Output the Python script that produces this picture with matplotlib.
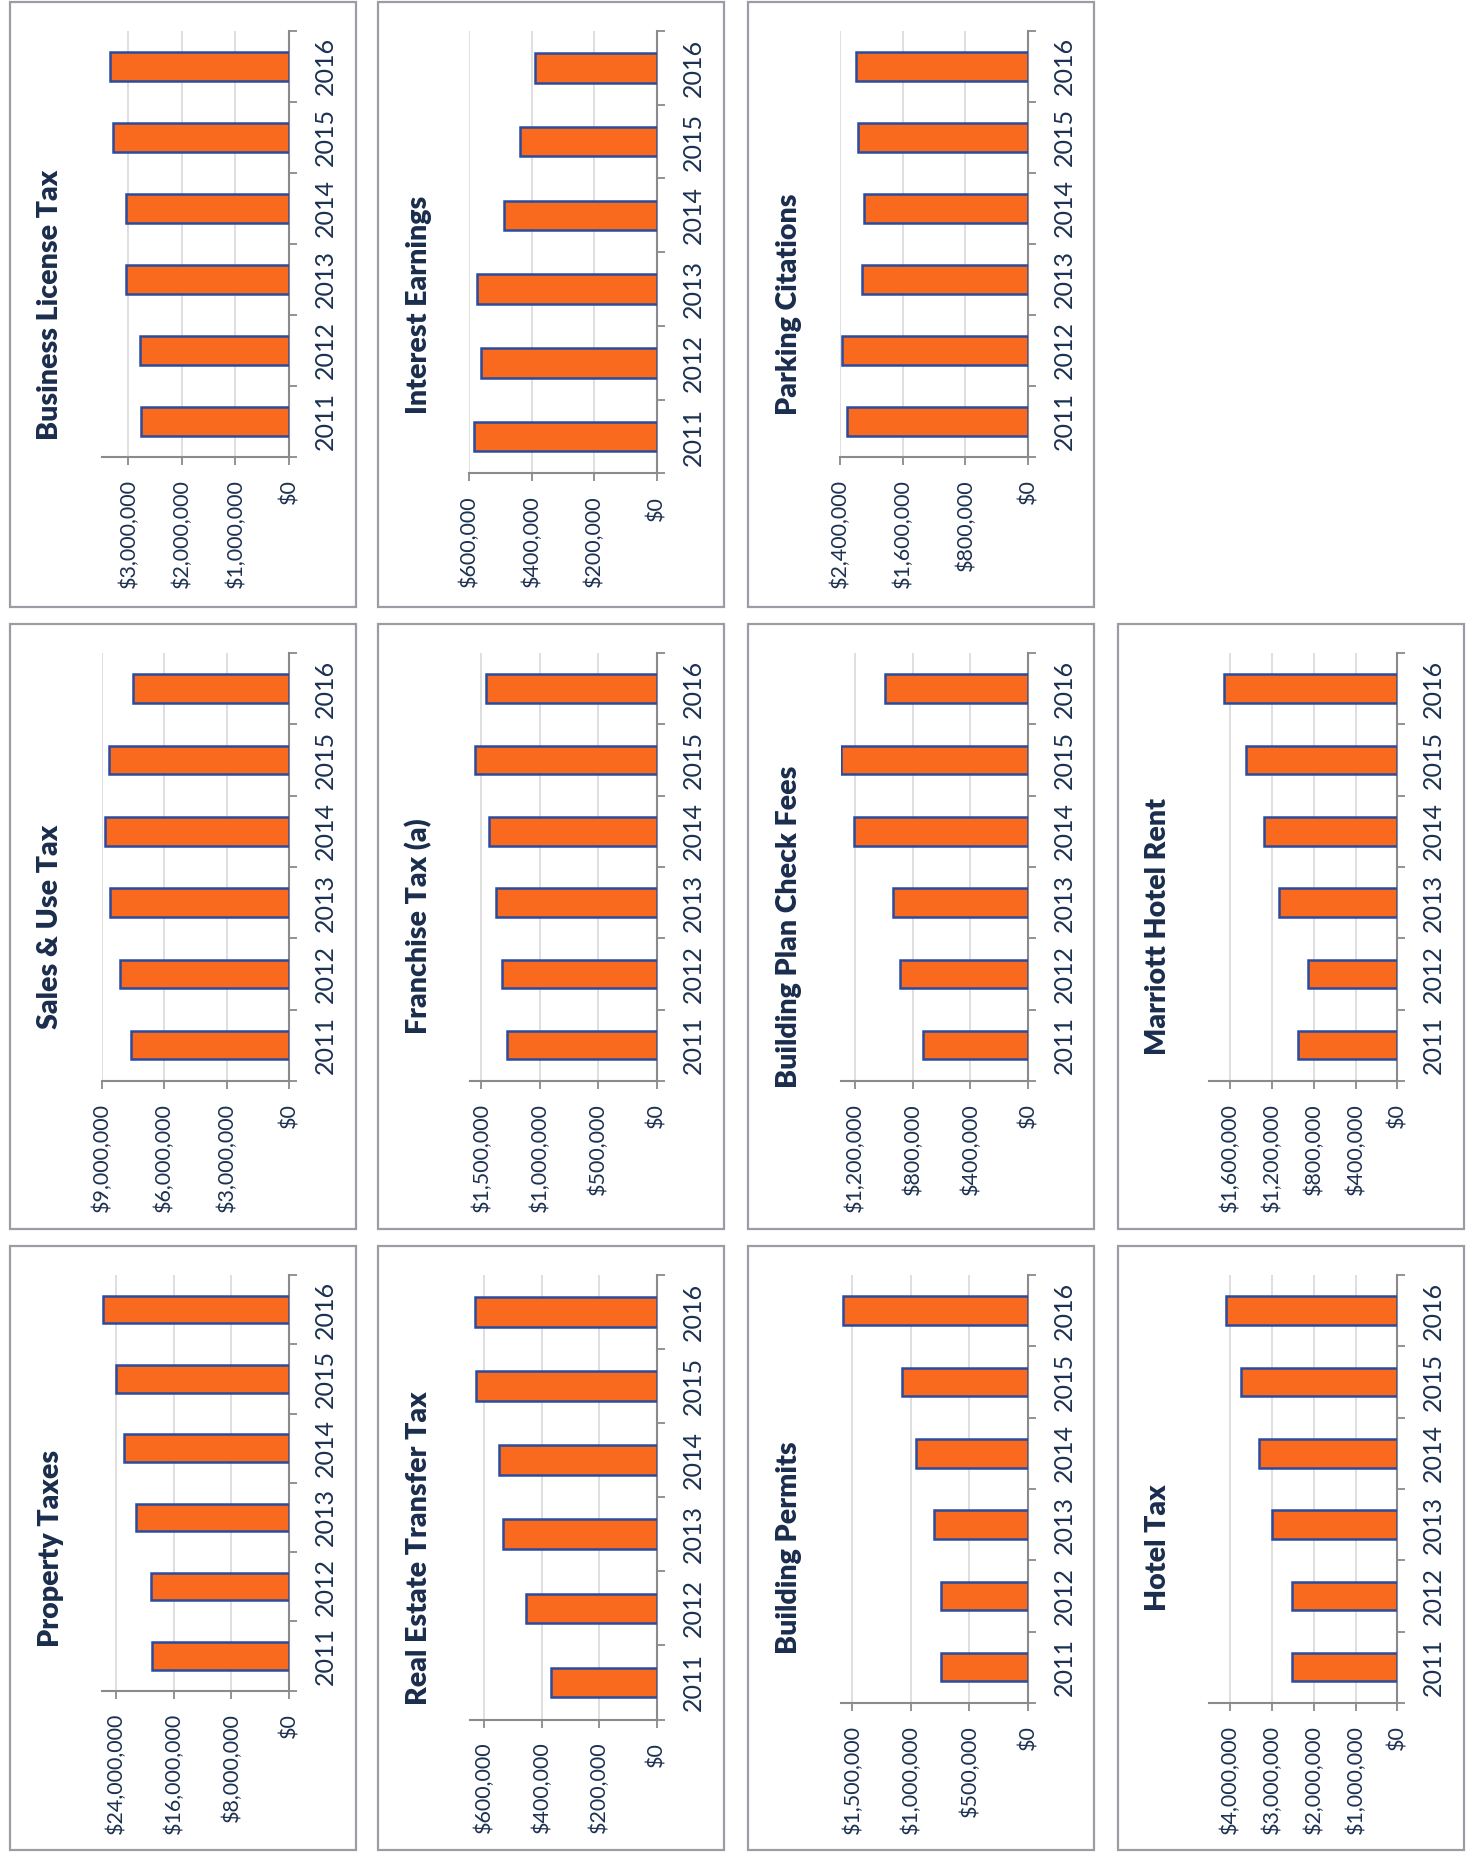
import numpy as np
import matplotlib.pyplot as plt
from matplotlib.patches import Rectangle
from matplotlib.ticker import FuncFormatter, FixedLocator

plt.rcParams['font.family'] = ['Lato', 'DejaVu Sans']

# -------------------------------------------------
# Data (fiscal years 2011-2016)
# -------------------------------------------------

years = ['2011', '2012', '2013', '2014', '2015', '2016']

property_taxes        = [18_960_000, 19_100_000, 21_180_000, 22_890_000, 23_950_000, 25_850_000]
sales_use_tax         = [7_590_000, 8_100_000, 8_620_000, 8_860_000, 8_670_000, 7_500_000]
business_license_tax  = [2_760_000, 2_780_000, 3_040_000, 3_040_000, 3_280_000, 3_350_000]
real_estate_transfer  = [366_000, 454_000, 535_000, 547_000, 629_000, 633_000]
franchise_tax         = [1_283_000, 1_323_000, 1_371_000, 1_431_000, 1_551_000, 1_463_000]
interest_earnings     = [585_000, 563_000, 573_000, 489_000, 437_000, 389_000]
building_permits      = [747_000, 744_000, 804_000, 957_000, 1_074_000, 1_582_000]
plan_check_fees       = [732_000, 891_000, 937_000, 1_207_000, 1_299_000, 992_000]
parking_citations     = [2_311_000, 2_379_000, 2_119_000, 2_098_000, 2_170_000, 2_191_000]
hotel_tax             = [2_530_000, 2_510_000, 3_010_000, 3_320_000, 3_730_000, 4_096_000]
marriott_hotel_rent   = [952_000, 859_000, 1_134_000, 1_274_000, 1_444_000, 1_657_000]

# title, values, axis max, tick step, column, row
panels = [
    ('Property Taxes',            property_taxes,       26_000_000, 8_000_000, 0, 2),
    ('Sales & Use Tax',           sales_use_tax,         9_000_000, 3_000_000, 0, 1),
    ('Business License Tax',      business_license_tax,  3_500_000, 1_000_000, 0, 0),
    ('Real Estate Transfer Tax',  real_estate_transfer,    650_000,   200_000, 1, 2),
    ('Franchise Tax (a)',         franchise_tax,         1_600_000,   500_000, 1, 1),
    ('Interest Earnings',         interest_earnings,       600_000,   200_000, 1, 0),
    ('Building Permits',          building_permits,      1_600_000,   500_000, 2, 2),
    ('Building Plan Check Fees',  plan_check_fees,       1_300_000,   400_000, 2, 1),
    ('Parking Citations',         parking_citations,     2_400_000,   800_000, 2, 0),
    ('Hotel Tax',                 hotel_tax,             4_500_000, 1_000_000, 3, 2),
    ('Marriott Hotel Rent',       marriott_hotel_rent,   1_800_000,   400_000, 3, 1),
]

# plot area in pixels: left, right, top, bottom
plot_boxes = {
    'Property Taxes':           (101.7, 289.0, 1275.0, 1690.5),
    'Sales & Use Tax':          (101.7, 289.0, 653.0, 1080.8),
    'Business License Tax':     (101.7, 289.0, 30.9, 456.8),
    'Real Estate Transfer Tax': (469.7, 656.7, 1275.0, 1719.5),
    'Franchise Tax (a)':        (469.7, 656.7, 653.0, 1080.8),
    'Interest Earnings':        (469.0, 656.7, 30.9, 473.5),
    'Building Permits':         (840.7, 1028.0, 1275.0, 1702.8),
    'Building Plan Check Fees': (840.7, 1028.0, 653.0, 1080.8),
    'Parking Citations':        (840.0, 1028.0, 30.9, 456.8),
    'Hotel Tax':                (1209.3, 1397.3, 1275.0, 1702.8),
    'Marriott Hotel Rent':      (1209.3, 1397.3, 653.0, 1080.8),
}

col_x = [(9.5, 355.6), (378.0, 724.0), (748.0, 1094.0), (1117.5, 1463.6)]
row_y = [(2.4, 607.0), (624.0, 1229.0), (1246.0, 1850.0)]

# -------------------------------------------------
# Plot
# -------------------------------------------------

W, H = 1466, 1852
fig = plt.figure(figsize=(W / 100, H / 100), dpi=100)

bar_face = '#F96A1E'
bar_edge = '#2A4B9E'
axis_col = '#8A8A8E'
grid_col = '#D9D9D9'
text_col = '#1C3152'
border_col = '#9C9CA4'

money = FuncFormatter(lambda v, p: f'${v:,.0f}')

pos = np.arange(len(years))

for title, vals, vmax, step, c, r in panels:
    # panel border
    x0, x1 = col_x[c]
    y0, y1 = row_y[r]
    fig.patches.append(Rectangle((x0 / W, 1 - y1 / H), (x1 - x0) / W, (y1 - y0) / H,
                                 transform=fig.transFigure, fill=False,
                                 edgecolor=border_col, linewidth=1.6))

    l, rr, t, b = plot_boxes[title]
    ax = fig.add_axes([l / W, 1 - b / H, (rr - l) / W, (b - t) / H])

    ax.barh(pos, vals, height=0.4, color=bar_face, edgecolor=bar_edge,
            linewidth=1.8, zorder=3)

    ax.set_xlim(vmax, 0)
    ax.set_ylim(-0.5, len(years) - 0.5)

    # value axis (drawn at the bottom, reads bottom-to-top)
    ax.xaxis.set_major_locator(FixedLocator(np.arange(0, vmax + 1, step)))
    ax.xaxis.set_major_formatter(money)
    ax.tick_params(axis='x', direction='out', length=6, width=1.3, color=axis_col,
                   pad=10, labelsize=15.5, labelcolor=text_col, labelrotation=90)
    for lab in ax.get_xticklabels():
        lab.set_va('top')
    ax.grid(axis='x', color=grid_col, linewidth=1.2, zorder=0)

    # category axis (drawn at the right)
    ax.yaxis.tick_right()
    ax.set_yticks(np.arange(-0.5, len(years)), labels=[])
    ax.set_yticks(pos, labels=years, minor=True)
    ax.tick_params(axis='y', which='major', direction='out', length=6, width=1.3,
                   color=axis_col)
    ax.tick_params(axis='y', which='minor', length=0, pad=18, labelsize=18,
                   labelcolor=text_col)
    for lab in ax.get_yticklabels(minor=True):
        lab.set_rotation(90)
        lab.set_va('center')

    for s in ['top', 'left']:
        ax.spines[s].set_visible(False)
    for s in ['bottom', 'right']:
        ax.spines[s].set_color(axis_col)
        ax.spines[s].set_linewidth(1.5)
    ax.set_axisbelow(True)

    # chart title, centred on the panel
    fig.text((x0 + 41) / W, 1 - (y0 + y1) / 2 / H, title, rotation=90,
             ha='center', va='center', fontsize=20.5, fontweight='heavy', color='#1B2D4D')

fig.savefig('out.png', dpi=100, facecolor='white')
